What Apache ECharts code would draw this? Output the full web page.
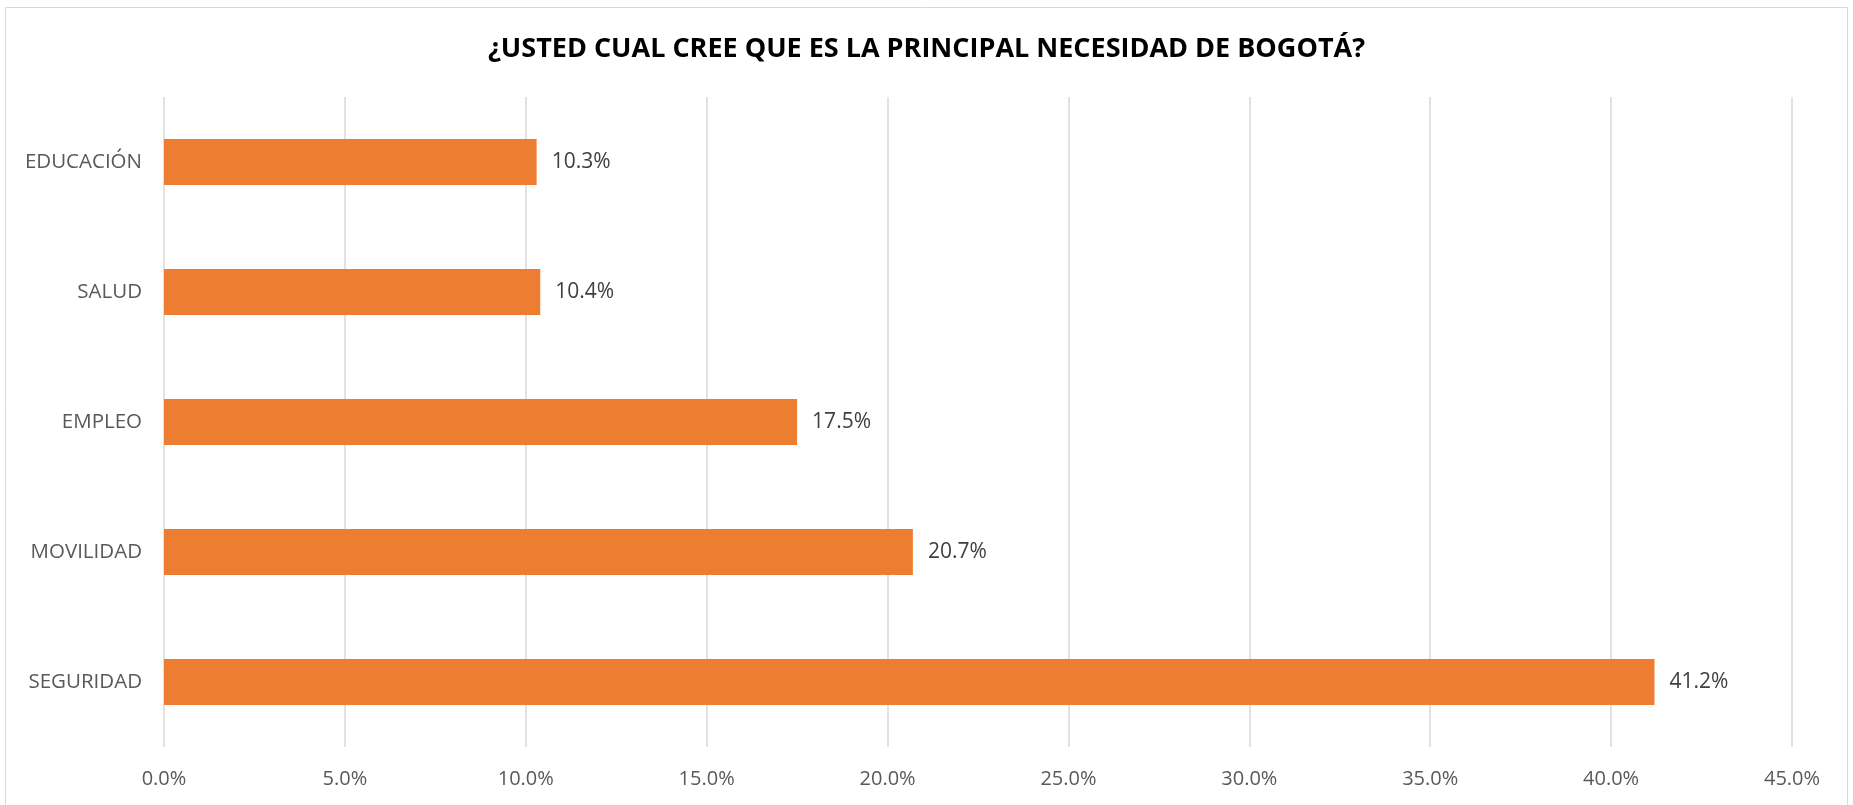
<!DOCTYPE html>
<html>
<head>
<meta charset="utf-8">
<script src="https://cdn.jsdelivr.net/npm/echarts@6/dist/echarts.min.js"></script>
<style>
  html, body { margin: 0; padding: 0; background: #fff; }
  #chart { width: 1853px; height: 805px; }
</style>
</head>
<body>
<div id="chart"></div>
<script>
// Data
const categories = ['EDUCACIÓN', 'SALUD', 'EMPLEO', 'MOVILIDAD', 'SEGURIDAD'];
const values = [10.3, 10.4, 17.5, 20.7, 41.2];
const title = '¿USTED CUAL CREE QUE ES LA PRINCIPAL NECESIDAD DE BOGOTÁ?';

const myChart = echarts.init(document.getElementById('chart'));
const textColor = '#595959';
const font = 'Open Sans';

const option = {
    backgroundColor: '#fff',
    animation: false,
    title: {
        text: title,
        left: 'center',
        top: 31,
        textStyle: { fontFamily: font, fontSize: 27, fontWeight: 'bold', color: '#000' }
    },
    graphic: [{
        type: 'rect',
        shape: { x: 5.5, y: 7.5, width: 1842, height: 805 },
        style: { fill: 'none', stroke: '#d9d9d9', lineWidth: 1 },
        silent: true
    }],
    grid: { left: 164, right: 61, top: 97, bottom: 58, containLabel: false },
    xAxis: {
        type: 'value',
        min: 0,
        max: 45,
        interval: 5,
        axisLine: { show: false },
        axisTick: { show: false },
        splitLine: { lineStyle: { color: '#d9d9d9', width: 1.5 } },
        axisLabel: {
            margin: 22,
            color: textColor,
            fontFamily: font,
            fontSize: 20,
            formatter: (v) => v.toFixed(1) + '%'
        }
    },
    yAxis: {
        type: 'category',
        data: categories,
        inverse: true,
        axisLine: { show: false },
        axisTick: { show: false },
        splitLine: { show: false },
        axisLabel: { margin: 22, color: textColor, fontFamily: font, fontSize: 20.5 }
    },
    series: [{
        type: 'bar',
        data: values,
        barWidth: 46,
        itemStyle: { color: '#ed7d31' },
        label: {
            show: true,
            position: 'right',
            distance: 15,
            color: '#404040',
            fontFamily: font,
            fontSize: 21,
            formatter: (p) => p.value.toFixed(1) + '%'
        }
    }]
};

myChart.setOption(option, true);
</script>
</body>
</html>
